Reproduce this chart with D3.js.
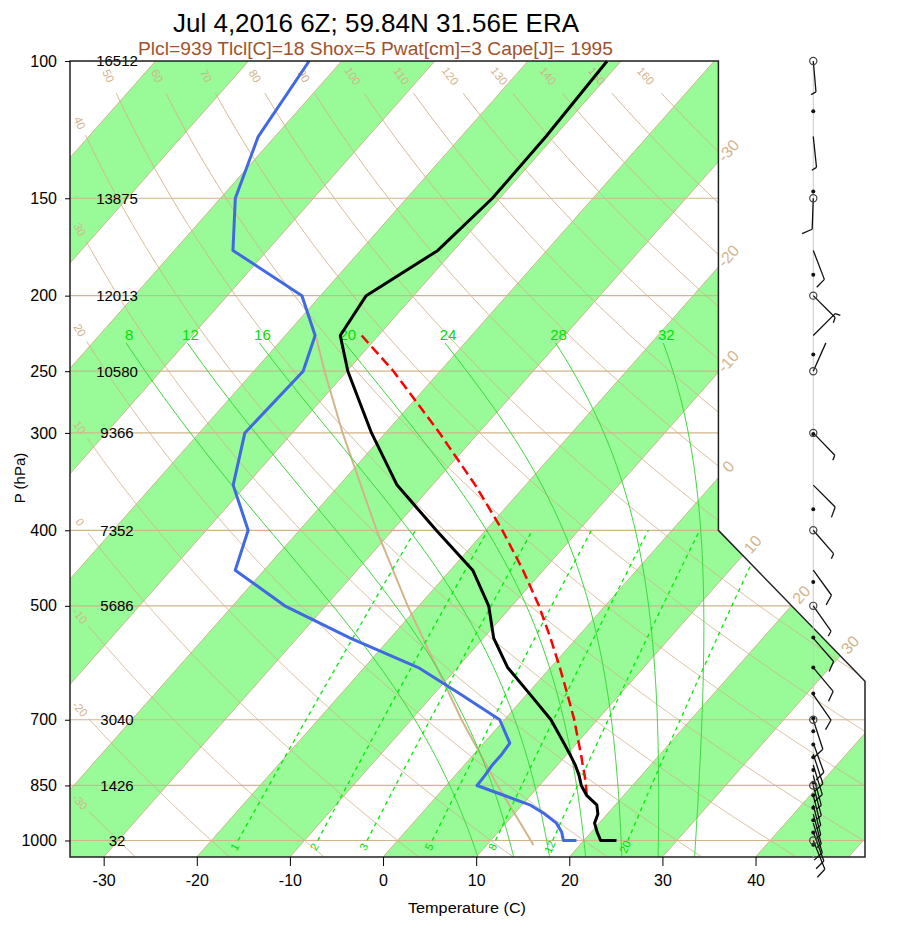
<!DOCTYPE html>
<html>
<head>
<meta charset="utf-8">
<script src="https://cdn.jsdelivr.net/npm/d3@7"></script>
<style>
  body { margin: 0; background: #fff; }
  svg { font-family: "Liberation Sans", Arial, Helvetica, sans-serif; }
</style>
</head>
<body>
<div id="chart"></div>
<script>
const title = "Jul 4,2016 6Z; 59.84N 31.56E ERA";
const subtitle = "Plcl=939 Tlcl[C]=18 Shox=5 Pwat[cm]=3 Cape[J]= 1995";

const isobars = [1000, 850, 700, 500, 400, 300, 250, 200, 150, 100];
const heights = [32, 1426, 3040, 5686, 7352, 9366, 10580, 12013, 13875, 16512];
const tempTicks = [-30, -20, -10, 0, 10, 20, 30, 40];
const isothermLabels = [-30, -20, -10, 0, 10, 20, 30];
const dryThetas = [-30, -20, -10, 0, 10, 20, 30, 40, 50, 60, 70, 80, 90, 100, 110, 120, 130, 140, 150, 160];
const moistThetas = [8, 12, 16, 20, 24, 28, 32];
const mixRatios = [1, 2, 3, 5, 8, 12, 20];

const levels = [100, 125, 150, 175, 200, 225, 250, 300, 350, 400, 450, 500, 550, 600, 650,
                700, 750, 775, 800, 825, 850, 875, 900, 925, 950, 975, 1000];
const tempC = [-51.5, -50.9, -50.8, -51.7, -55.1, -54.1, -49.9, -41.5, -33.8, -25.3, -17.6, -12.5, -8.9, -4.6, 0.4,
               5.0, 8.6, 10.3, 11.9, 13.3, 14.5, 16.0, 18.0, 19.0, 19.5, 20.6, 21.8];
const dewC  = [-83.5, -81.8, -78.4, -73.7, -62.0, -56.8, -54.7, -55.1, -51.4, -45.5, -43.1, -34.4, -24.3, -14.2, -7.0,
               -0.5, 2.8, 3.0, 3.0, 3.2, 3.3, 7.1, 10.8, 13.3, 15.4, 16.8, 17.8];
const sfcP = 1000, sfcT = 23.5, sfcTd = 19.2;

const parcelP = [225, 250, 300, 350, 400, 450, 500, 550, 600, 650, 700, 750, 775, 800, 825, 850, 875];
const parcelT = [-51.8, -45.0, -34.2, -25.4, -18.2, -12.2, -7.1, -2.8, 1.0, 4.4, 7.5, 10.2, 11.5, 12.7, 13.9, 15.0, 16.0];

// ICAO standard atmosphere, surface to tropopause
const stdP = [1013.25, 1000, 900, 850, 700, 500, 400, 300, 250, 226.3];
const stdT = [15.0, 14.3, 8.6, 5.5, -4.6, -21.2, -31.7, -44.6, -52.4, -56.5];

// winds at the model levels (direction from, knots)
const windDir = [175, 174, 182, 159, 135, 45, 24, 136, 135, 139, 144, 145, 139, 140, 145,
                 162, 160, 162, 163, 165, 165, 166, 166, 165, 163, 160, 158];
const windSpd = [5, 5, 10, 10, 5, 5, 2, 5, 10, 5, 10, 5, 10, 10, 10,
                 10, 10, 10, 10, 5, 5, 5, 5, 5, 10, 10, 10];
// markers of the height winds (pressure of 0..50 kft in std atmosphere)
const heightWindP = [1013, 977, 942, 908, 875, 843, 812, 782, 753, 724, 697, 648, 600, 549, 466, 376, 301, 238, 188, 147, 116];

// ---------------- skew-T geometry ----------------
const xmin = -19.0, xmax = 27.1, ymin = -0.9346217, ymax = 44.061;
const xs = d3.scaleLinear().domain([xmin, xmax]).range([70, 865]);
const ys = d3.scaleLinear().domain([ymin, ymax]).range([857, 61]);
const skewY = p => 132.182 - 44.061 * Math.log10(p);
const skewX = (t, y) => 0.54 * t + 0.90692 * y;
const pt = (t, p) => { const y = skewY(p); return [xs(skewX(t, y)), ys(y)]; };

const pScale = d3.scaleLog().domain([1050, 100]).range([ys(ymin), ys(ymax)]);
const tScale = d3.scaleLinear()
  .domain([(xmin - 0.90692 * ymin) / 0.54, (xmax - 0.90692 * ymin) / 0.54])
  .range([70, 865]);

const outline = [[xmin, ymin], [xmax, ymin], [xmax, 9.0], [18.6, 17.53], [18.6, ymax], [xmin, ymax]]
  .map(d => [xs(d[0]), ys(d[1])]);

const TAN = "#d2b48c";
const line = d3.line().x(d => d[0]).y(d => d[1]);

const svg = d3.select("#chart").append("svg")
  .attr("width", 900).attr("height", 930);

svg.append("defs").append("clipPath").attr("id", "frame")
  .append("polygon").attr("points", outline.map(d => d.join(",")).join(" "));

const bg = svg.append("g").attr("clip-path", "url(#frame)");

// green isotherm bands
[-100, -80, -60, -40, -20, 0, 20, 40].forEach(t0 => {
  const pts = [[t0, ymin], [t0, ymax], [t0 + 10, ymax], [t0 + 10, ymin]]
    .map(([t, y]) => [xs(skewX(t, y)), ys(y)]);
  bg.append("polygon").attr("points", pts.join(" ")).attr("fill", "#98fb98");
});

// isotherms
d3.range(-110, 51, 10).forEach(t => {
  bg.append("path")
    .attr("d", line([[xs(skewX(t, ymin)), ys(ymin)], [xs(skewX(t, ymax)), ys(ymax)]]))
    .attr("stroke", TAN).attr("stroke-width", 1).attr("fill", "none");
});

// isobars
isobars.forEach(p => {
  bg.append("line").attr("x1", 70).attr("x2", 865)
    .attr("y1", pScale(p)).attr("y2", pScale(p))
    .attr("stroke", TAN).attr("stroke-width", 1.2);
});

// dry adiabats, labelled along the top (p = 104.5) or the left edge
const fg = svg.append("g");
dryThetas.forEach(th => {
  const tAt = p => (th + 273.15) * Math.pow(p / 1000, 0.2857) - 273.15;
  const curve = [];
  let lab = null, labP = null;
  for (let p = 1050; p >= 100; p -= 0.5) {
    const q = pt(tAt(p), p);
    if (q[0] <= 80 || p <= 104.5) { lab = q; labP = p; break; }
    curve.push(q);
  }
  if (!lab) return;
  const pts = curve.filter(q => pScale.invert(q[1]) >= 110 &&
    Math.hypot(q[0] - lab[0], q[1] - lab[1]) >= 13);
  bg.append("path").attr("d", line(pts))
    .attr("stroke", TAN).attr("stroke-width", 1).attr("fill", "none");
  if (lab[0] > 712) return;
  const nxt = pt(tAt(labP + 3), labP + 3);
  const ang = Math.atan2(nxt[1] - lab[1], nxt[0] - lab[0]) * 180 / Math.PI;
  fg.append("text")
    .attr("transform", `translate(${lab[0]},${lab[1]}) rotate(${ang})`)
    .attr("text-anchor", "middle").attr("dy", "0.35em")
    .attr("font-size", 11.5).attr("fill", TAN).text(th);
});

// standard atmosphere
bg.append("path").attr("d", line(stdP.map((p, i) => pt(stdT[i], p))))
  .attr("stroke", TAN).attr("stroke-width", 2).attr("fill", "none");

// saturated (pseudo) adiabats
function dTdp(p, T) {
  const Rd = 287.04, cp = 1005.7, Lv = 2.501e6, eps = 0.622;
  const e = 6.112 * Math.exp(17.67 * (T - 273.15) / (T - 273.15 + 243.5));
  const rs = eps * e / (p - e);
  return (Rd * T + Lv * rs) / (p * (cp + Lv * Lv * rs * eps / (Rd * T * T)));
}
function integrate(T, p0, p1, dp) {
  const out = [[p0, T]];
  let p = p0;
  while ((dp < 0 && p > p1) || (dp > 0 && p < p1)) {
    const k1 = dTdp(p, T), k2 = dTdp(p + dp / 2, T + dp / 2 * k1);
    const k3 = dTdp(p + dp / 2, T + dp / 2 * k2), k4 = dTdp(p + dp, T + dp * k3);
    T += dp / 6 * (k1 + 2 * k2 + 2 * k3 + k4);
    p += dp;
    out.push([p, T]);
  }
  return out;
}
moistThetas.forEach(tw => {
  const up = integrate(tw + 273.15, 1000, 230, -5);
  const down = integrate(tw + 273.15, 1000, 1050, 5);
  const all = down.reverse().concat(up.slice(1)).map(([p, T]) => pt(T - 273.15, p));
  bg.append("path").attr("d", line(all))
    .attr("stroke", "#3cd63c").attr("stroke-width", 1).attr("fill", "none");
  const top = all[all.length - 1];
  fg.append("text").attr("x", top[0] + 3).attr("y", top[1] - 3)
    .attr("text-anchor", "middle").attr("font-size", 15).attr("fill", "#00e000").text(tw);
});

// mixing ratio lines
const tdFromW = (w, p) => {
  const e = w * p / (622 + w), a = Math.log(e / 6.112);
  return 243.5 * a / (17.67 - a);
};
mixRatios.forEach(w => {
  const pts = d3.range(1000, 399, -10).map(p => pt(tdFromW(w, p), p));
  bg.append("path").attr("d", line(pts))
    .attr("stroke", "#00ee00").attr("stroke-width", 1.3)
    .attr("stroke-dasharray", "4,4").attr("fill", "none");
  const a = pt(tdFromW(w, 1019), 1019), b = pt(tdFromW(w, 1000), 1000);
  const ang = Math.atan2(b[1] - a[1], b[0] - a[0]) * 180 / Math.PI;
  fg.append("text")
    .attr("transform", `translate(${a[0]},${a[1]}) rotate(${ang})`)
    .attr("text-anchor", "middle").attr("dy", "0.35em")
    .attr("font-size", 11).attr("fill", "#00dd00").text(w);
});

// isotherm labels along the right edge
isothermLabels.forEach(t => {
  let last = null;
  for (let y = ymin; y <= ymax; y += 0.02) {
    const q = [xs(skewX(t, y)), ys(y)];
    if (d3.polygonContains(outline, q)) last = q; else if (last) break;
  }
  const a = [xs(skewX(t, 0)), ys(0)], b = [xs(skewX(t, 10)), ys(10)];
  const len = Math.hypot(b[0] - a[0], b[1] - a[1]);
  const ux = (b[0] - a[0]) / len, uy = (b[1] - a[1]) / len;
  const ang = Math.atan2(uy, ux) * 180 / Math.PI;
  fg.append("text")
    .attr("transform", `translate(${last[0] + 15 * ux},${last[1] + 15 * uy}) rotate(${ang})`)
    .attr("text-anchor", "middle").attr("dy", "0.35em")
    .attr("font-size", 16).attr("fill", TAN).text(t);
});

// heights of standard levels
isobars.forEach((p, i) => {
  fg.append("text").attr("x", 117).attr("y", pScale(p)).attr("dy", "0.36em")
    .attr("text-anchor", "middle").attr("font-size", 15).attr("fill", "#000").text(heights[i]);
});

// ---------------- sounding ----------------
const dewPts = levels.map((p, i) => pt(dewC[i], p)).concat([pt(sfcTd, sfcP)]);
const tempPts = levels.map((p, i) => pt(tempC[i], p)).concat([pt(sfcT, sfcP)]);
const parcelPts = parcelP.map((p, i) => pt(parcelT[i], p));

svg.append("path").attr("d", line(parcelPts))
  .attr("stroke", "#ff0000").attr("stroke-width", 2.5).attr("stroke-dasharray", "10,5").attr("fill", "none");
svg.append("path").attr("d", line(dewPts))
  .attr("stroke", "#4169e1").attr("stroke-width", 3).attr("fill", "none").attr("stroke-linejoin", "round");
svg.append("path").attr("d", line(tempPts))
  .attr("stroke", "#000").attr("stroke-width", 3).attr("fill", "none").attr("stroke-linejoin", "round");

// frame
svg.append("polygon").attr("points", outline.map(d => d.join(",")).join(" "))
  .attr("fill", "none").attr("stroke", "#222").attr("stroke-width", 1.5);

// axes
const yAxis = svg.append("g").attr("transform", "translate(70,0)")
  .call(d3.axisLeft(pScale).tickValues(isobars).tickFormat(d => d).tickSize(5).tickPadding(8));
yAxis.select(".domain").remove();
yAxis.selectAll("text").attr("font-size", 16).attr("font-family", null);

const xAxis = svg.append("g").attr("transform", `translate(0,${ys(ymin)})`)
  .call(d3.axisBottom(tScale).tickValues(tempTicks).tickFormat(d => d).tickSize(9).tickPadding(9));
xAxis.select(".domain").remove();
xAxis.selectAll("text").attr("font-size", 16).attr("font-family", null);

svg.append("text").attr("x", 408).attr("y", 913).attr("font-size", 14)
  .attr("textLength", 118).attr("lengthAdjust", "spacingAndGlyphs").text("Temperature (C)");
svg.append("text").attr("transform", "translate(25,478) rotate(-90)")
  .attr("text-anchor", "middle").attr("font-size", 15).text("P (hPa)");

svg.append("text").attr("x", 173).attr("y", 32).attr("font-size", 25)
  .attr("textLength", 406).attr("lengthAdjust", "spacingAndGlyphs").text(title);
svg.append("text").attr("x", 138).attr("y", 55).attr("font-size", 18).attr("fill", "#a0522d")
  .attr("textLength", 475).attr("lengthAdjust", "spacingAndGlyphs").text(subtitle);

// ---------------- winds ----------------
const wx = xs(24.1);
const wg = svg.append("g");
wg.append("line").attr("x1", wx).attr("x2", wx).attr("y1", ys(ymax)).attr("y2", ys(ymin))
  .attr("stroke", "#c8c8c8").attr("stroke-width", 1);

function barb(x, y, dir, spd) {
  const L = 31, full = 11, gap = 4, a = 65 * Math.PI / 180, r = dir * Math.PI / 180;
  const ux = Math.sin(r), uy = -Math.cos(r);
  const ex = x + L * ux, ey = y + L * uy;
  const fx = ux * Math.cos(a) - uy * Math.sin(a), fy = ux * Math.sin(a) + uy * Math.cos(a);
  let d = `M${x},${y}L${ex},${ey}`;
  let s = Math.round(spd / 5) * 5, pos = 0;
  while (s >= 10) {
    d += `M${ex - pos * ux},${ey - pos * uy}l${fx * full},${fy * full}`;
    pos += gap; s -= 10;
  }
  if (s >= 5) d += `M${ex - pos * ux},${ey - pos * uy}l${fx * full / 2},${fy * full / 2}`;
  wg.append("path").attr("d", d).attr("stroke", "#111").attr("stroke-width", 1.3).attr("fill", "none");
}
levels.forEach((p, i) => barb(wx, pScale(p), windDir[i], windSpd[i]));

heightWindP.forEach(p => {
  wg.append("circle").attr("cx", wx).attr("cy", pScale(p)).attr("r", 2).attr("fill", "#111");
});
isobars.forEach(p => {
  wg.append("circle").attr("cx", wx).attr("cy", pScale(p)).attr("r", 3.6)
    .attr("fill", "none").attr("stroke", "#444").attr("stroke-width", 1.2);
});
</script>
</body>
</html>
